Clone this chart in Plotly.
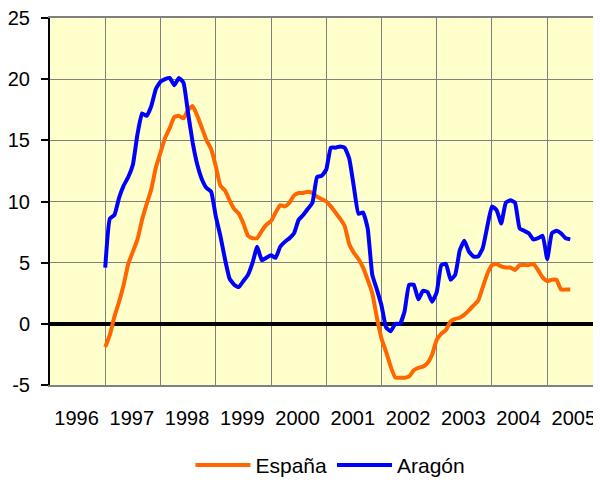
import plotly.graph_objects as go

# Monthly series (month index 0 = first observation, plotted from the 2nd year band)
espana = [-1.9, -0.9, 0.6, 1.8, 3.2, 4.9, 5.9, 6.9, 8.5, 9.8,
          11.0, 12.8, 14.0, 15.2, 16.0, 16.9, 17.0, 16.8, 17.5, 17.8,
          17.0, 16.0, 15.0, 14.3, 12.9, 11.3, 10.9, 10.1, 9.4, 9.0,
          8.2, 7.2, 7.0, 7.0, 7.6, 8.1, 8.4, 9.1, 9.7, 9.6,
          9.9, 10.5, 10.7, 10.7, 10.8, 10.7, 10.4, 10.2, 10.0, 9.6,
          9.1, 8.6, 8.0, 6.5, 5.8, 5.3, 4.6, 3.6, 2.5, 0.5,
          -1.2, -2.3, -3.5, -4.4, -4.4, -4.4, -4.3, -3.8, -3.6, -3.5,
          -3.2, -2.5, -1.3, -0.8, -0.5, 0.2, 0.4, 0.5, 0.75, 1.1,
          1.5, 1.9, 3.0, 4.1, 4.8, 4.9, 4.7, 4.6, 4.6, 4.4,
          4.8, 4.8, 4.8, 4.9, 4.4, 3.8, 3.5, 3.6, 3.6, 2.8,
          2.8, 2.8]

aragon = [4.6, 8.6, 8.9, 10.3, 11.3, 12.0, 13.0, 15.5, 17.2, 17.0,
          17.8, 19.2, 19.8, 20.0, 20.1, 19.5, 20.1, 19.7, 17.2, 14.8,
          13.0, 11.8, 11.1, 10.8, 8.8, 7.2, 5.3, 3.7, 3.2, 3.0,
          3.5, 4.0, 5.0, 6.3, 5.2, 5.4, 5.6, 5.4, 6.3, 6.7,
          7.0, 7.4, 8.5, 8.9, 9.4, 9.9, 12.0, 12.1, 12.6, 14.4,
          14.4, 14.5, 14.4, 13.5, 11.2, 9.0, 9.1, 7.8, 4.0, 2.8,
          1.5, -0.3, -0.6, 0.0, 0.0, 1.0, 3.2, 3.2, 2.0, 2.7,
          2.6, 1.8, 2.6, 4.8, 4.9, 3.6, 4.0, 6.0, 6.8, 5.9,
          5.5, 5.5, 6.2, 8.0, 9.6, 9.3, 8.2, 9.9, 10.1, 9.9,
          7.8, 7.6, 7.4, 6.9, 7.0, 7.2, 5.3, 7.4, 7.6, 7.4,
          7.0, 6.9]

years = ["1996", "1997", "1998", "1999", "2000", "2001", "2002", "2003", "2004", "2005"]
y_ticks = [-5, 0, 5, 10, 15, 20, 25]

# x in "year band" units: band k spans [k, k+1]; data starts at band 1
x_esp = [1 + i / 12 for i in range(len(espana))]
x_ara = [1 + i / 12 for i in range(len(aragon))]

FONT = "Liberation Sans, Arial, sans-serif"

fig = go.Figure()
fig.add_trace(go.Scatter(x=x_esp, y=espana, mode="lines", name="España",
                         line=dict(color="#FF6600", width=4, shape="spline", smoothing=0.4)))
fig.add_trace(go.Scatter(x=x_ara, y=aragon, mode="lines", name="Aragón",
                         line=dict(color="#0000FF", width=4, shape="spline", smoothing=0.4)))

# the page body adds an 8px offset, so the figure is sized to the remaining window
fig.update_layout(
    width=593, height=474,
    margin=dict(l=42, r=0, t=10, b=97, autoexpand=False),
    paper_bgcolor="white",
    plot_bgcolor="#FFFFCC",
    font=dict(family=FONT, size=20, color="black"),
    showlegend=True,
    legend=dict(orientation="h", x=0.509, xanchor="center", y=-0.163, yanchor="top",
                font=dict(size=21), tracegroupgap=0, itemwidth=55,
                bgcolor="rgba(0,0,0,0)"),
)

fig.update_xaxes(
    range=[0, 9.973],
    automargin=False,
    tickmode="array",
    tickvals=[k + 0.48 for k in range(len(years))],
    ticktext=years,
    showgrid=False,
    ticks="",
    ticklabelstandoff=14,
    ticklabeloverflow="allow",
    tickfont=dict(size=20),
    showline=True, linecolor="#808080", linewidth=1.5, mirror=True,
    zeroline=False,
    minor=dict(tickmode="linear", tick0=0, dtick=1, showgrid=True,
               gridcolor="#808080", gridwidth=1),
)

fig.update_yaxes(
    range=[-5, 25],
    automargin=False,
    tickmode="array",
    tickvals=y_ticks,
    ticktext=[str(v) for v in y_ticks],
    showgrid=True, gridcolor="#808080", gridwidth=1,
    ticks="outside", ticklen=7, tickcolor="black", tickwidth=1.5,
    ticklabelstandoff=7,
    ticklabeloverflow="allow",
    showline=True, linecolor="black", linewidth=2,
    zeroline=True, zerolinecolor="black", zerolinewidth=3.5,
    tickfont=dict(size=20),
)

fig.write_html("out.html")
